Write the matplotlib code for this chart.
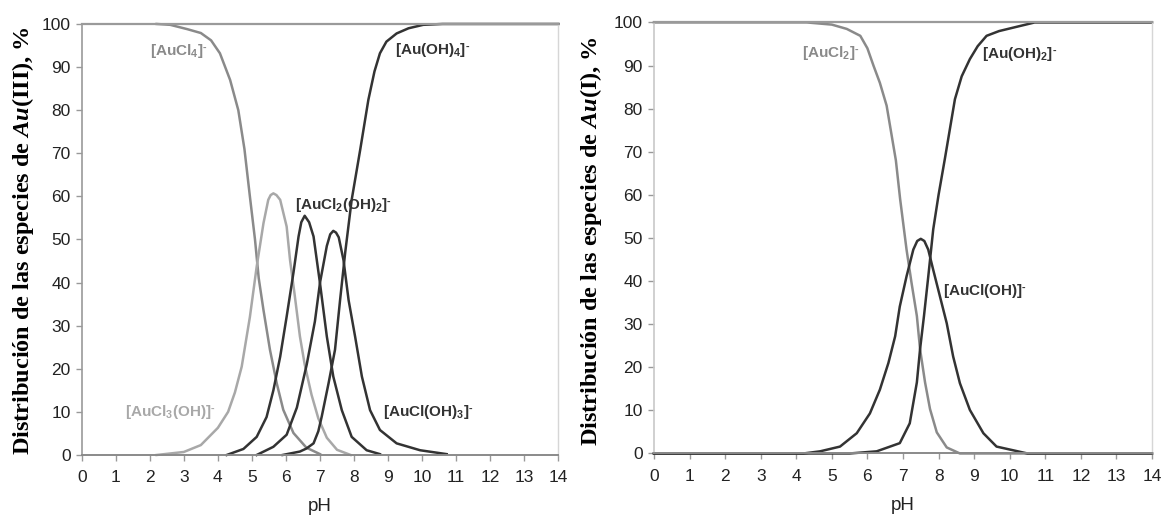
import matplotlib
matplotlib.use("Agg")
import matplotlib.pyplot as plt

plt.rcParams['font.family'] = ['Liberation Sans', 'DejaVu Sans']
plt.rcParams['mathtext.fontset'] = 'custom'
plt.rcParams['mathtext.rm'] = 'Liberation Sans:bold'
plt.rcParams['mathtext.bf'] = 'Liberation Sans:bold'
plt.rcParams['mathtext.it'] = 'Liberation Serif:italic:bold'

# --- Au(III) species (left panel) ---
ph_aucl4 = [2.2, 2.6, 3.1, 3.5, 3.8, 4.06, 4.36, 4.6, 4.78, 4.94, 5.09, 5.2, 5.34, 5.53, 5.73, 5.92, 6.22,
            6.6, 7.0]
pct_aucl4 = [100, 99.8, 98.8, 97.9, 96.2, 93.2, 87.0, 80.0, 71, 60.0, 50.0, 41, 33.6, 24.4, 16.6, 10.5, 5.1,
             1.7, 0.2]

ph_aucl3oh = [2.2, 3.0, 3.5, 4.0, 4.3, 4.5, 4.7, 4.94, 5.14, 5.34, 5.48, 5.55, 5.63, 5.72, 5.83, 6.02, 6.12,
              6.25, 6.41, 6.55, 6.75, 6.95, 7.2, 7.5, 7.9]
pct_aucl3oh = [0, 0.7, 2.3, 6.3, 10, 14.5, 20.5, 32, 43.7, 53.8, 59.2, 60.3, 60.7, 60.3, 59.2, 53, 45.2,
               37.5, 27.5, 21, 14, 8.5, 4, 1.2, 0]

ph_aucl2oh2 = [4.26, 4.75, 5.14, 5.43, 5.63, 5.83, 6.02, 6.22, 6.37, 6.45, 6.55, 6.68, 6.81, 7.0, 7.2, 7.39,
               7.64, 7.93, 8.37, 8.76]
pct_aucl2oh2 = [0, 1.4, 4.2, 8.8, 15.0, 22.8, 32.1, 42.3, 50.7, 54, 55.5, 54, 50.7, 39.8, 27.5, 18.2,
                10.4, 4.2, 1.1, 0.2]

ph_auclo3 = [5.14, 5.63, 6.02, 6.32, 6.61, 6.85, 7.0, 7.2, 7.3, 7.39, 7.47, 7.55, 7.69, 7.84, 8.03, 8.23,
             8.47, 8.76, 9.25, 9.94, 10.72]
pct_auclo3 = [0, 1.9, 4.7, 11, 21, 31, 40, 48.5, 51.2, 52, 51.6, 50.5, 45.2, 35.9, 27.5, 18.2,
              10.4, 5.8, 2.7, 1.1, 0.2]

ph_auoh4 = [5.9, 6.41, 6.6, 6.81, 6.95, 7.05, 7.25, 7.44, 7.59, 7.74, 7.93, 8.18, 8.42, 8.6, 8.76, 8.95,
            9.25, 9.6, 10.03, 10.6, 14.0]
pct_auoh4 = [0, 0.8, 1.5, 2.7, 5.5, 8.9, 16.6, 24.4, 36, 47, 59.2, 70.8, 82.4, 89, 93.2, 95.9,
             97.8, 99.0, 99.8, 100, 100]

# --- Au(I) species (right panel) ---
ph_aucl2 = [0, 4.3, 5.0, 5.42, 5.8, 6.0, 6.17, 6.35, 6.54, 6.8, 6.92, 7.1, 7.24, 7.39, 7.48, 7.62, 7.76,
            7.95, 8.23, 8.6, 14]
pct_aucl2 = [100, 100, 99.5, 98.5, 96.9, 94, 90, 86, 80.7, 68, 59, 47.3, 39.6, 31.9, 24.2, 16.5, 10.3,
             4.9, 1.4, 0, 0]

ph_auclo = [0, 4.2, 4.67, 5.23, 5.7, 6.07, 6.35, 6.59, 6.78, 6.91, 7.1, 7.29, 7.4, 7.5, 7.6, 7.71, 7.85,
            8.23, 8.41, 8.6, 8.88, 9.26, 9.63, 10.5, 14]
pct_auclo = [0, 0, 0.5, 1.6, 4.7, 9.3, 14.8, 21.0, 27.2, 34.1, 41.1, 47.3, 49.3, 49.8, 49.3, 47.3, 42.6,
             30.2, 22.5, 16.3, 10.1, 4.7, 1.6, 0, 0]

ph_auoh2 = [0, 5.5, 6.26, 6.91, 7.19, 7.39, 7.48, 7.59, 7.71, 7.85, 8.0, 8.18, 8.46, 8.65, 8.88, 9.1, 9.35,
            9.7, 10.0, 10.7, 14]
pct_auoh2 = [0, 0, 0.5, 2.4, 7.0, 16.5, 24.2, 31.9, 41, 52, 60, 68.5, 82.2, 87.5, 91.5, 94.5, 96.9,
             98.0, 98.6, 100, 100]

DARK = '#333333'
MID = '#8a8a8a'
LIGHT = '#a8a8a8'
LW = 1.8

fig = plt.figure(figsize=(11.62, 5.21), dpi=100)
ax1 = fig.add_axes([0.0703, 0.1267, 0.4102, 0.8273])
ax2 = fig.add_axes([0.5628, 0.1296, 0.4286, 0.8273])


def style_axes(ax, left_color, bottom_color, top_color, right_color):
    ax.set_xlim(0, 14)
    ax.set_ylim(0, 100)
    ax.set_xticks(range(0, 15))
    ax.set_yticks(range(0, 101, 10))
    ax.spines['left'].set_color(left_color)
    ax.spines['bottom'].set_color(bottom_color)
    ax.spines['top'].set_color(top_color)
    ax.spines['right'].set_color(right_color)
    ax.spines['left'].set_linewidth(1.2)
    ax.spines['bottom'].set_linewidth(1.4)
    ax.spines['top'].set_linewidth(1.6)
    ax.spines['right'].set_linewidth(1.0)
    ax.tick_params(axis='both', direction='out', length=4, width=1, color='#999999',
                   labelsize=12.5, labelcolor='#222222')
    ax.tick_params(axis='x', pad=7)
    ax.tick_params(axis='y', pad=4)
    ax.set_xlabel('pH', fontsize=13.5, color='#222222')
    ax.xaxis.set_label_coords(0.5, -0.1)
    ax.xaxis.label.set_va('top')


style_axes(ax1, '#9a9a9a', '#8a8a8a', '#9a9a9a', '#d6d6d6')
style_axes(ax2, '#c8c8c8', '#8a8a8a', '#9a9a9a', '#d6d6d6')

# left panel curves
ax1.plot(ph_aucl4, pct_aucl4, color=MID, lw=LW, clip_on=False)
ax1.plot(ph_aucl3oh, pct_aucl3oh, color=LIGHT, lw=LW, clip_on=False)
ax1.plot(ph_aucl2oh2, pct_aucl2oh2, color=DARK, lw=LW, clip_on=False)
ax1.plot(ph_auclo3, pct_auclo3, color=DARK, lw=LW, clip_on=False)
ax1.plot(ph_auoh4, pct_auoh4, color=DARK, lw=LW, clip_on=False)

# right panel curves
ax2.plot(ph_aucl2, pct_aucl2, color=MID, lw=LW, clip_on=False)
ax2.plot(ph_auclo, pct_auclo, color=DARK, lw=LW, clip_on=False)
ax2.plot(ph_auoh2, pct_auoh2, color=DARK, lw=LW, clip_on=False)

SUP = r'$^{\text{-}}$'
lab = dict(fontsize=11, fontweight='bold', ha='left', va='center')
ax1.text(2.0, 93.7, r'[AuCl$_4$]' + SUP, color=MID, **lab)
ax1.text(1.27, 10, r'[AuCl$_3$(OH)]' + SUP, color=LIGHT, **lab)
ax1.text(6.27, 57.9, r'[AuCl$_2$(OH)$_2$]' + SUP, color=DARK, **lab)
ax1.text(8.85, 10, r'[AuCl(OH)$_3$]' + SUP, color=DARK, **lab)
ax1.text(9.2, 94, r'[Au(OH)$_4$]' + SUP, color=DARK, **lab)

ax2.text(4.15, 92.9, r'[AuCl$_2$]' + SUP, color=MID, **lab)
ax2.text(9.21, 92.7, r'[Au(OH)$_2$]' + SUP, color=DARK, **lab)
ax2.text(8.13, 37.6, r'[AuCl(OH)]' + SUP, color=DARK, **lab)

ylab = dict(rotation=90, ha='center', va='center', fontsize=17.5, fontweight='bold',
            family='Liberation Serif', color='black')
fig.text(0.0198, 0.538, r'Distribución de las especies de $\mathit{Au}$(III), %', **ylab)
fig.text(0.5086, 0.538, r'Distribución de las especies de $\mathit{Au}$(I), %', **ylab)

fig.savefig('out.png', dpi=100)
